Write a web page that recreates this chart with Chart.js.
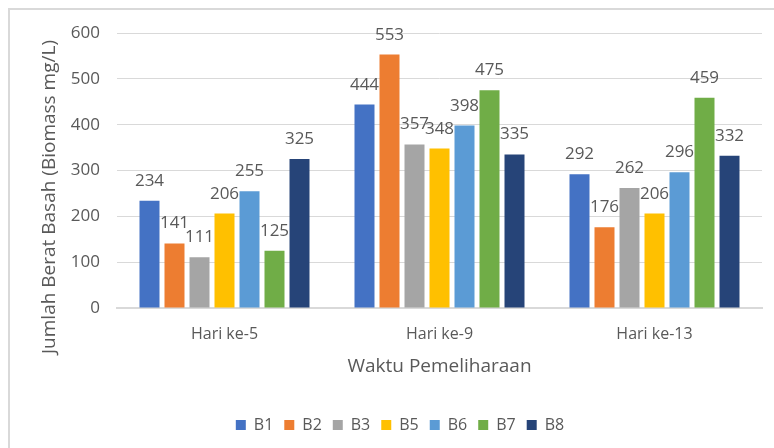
<!DOCTYPE html>
<html>
<head>
<meta charset="utf-8">
<script src="https://cdn.jsdelivr.net/npm/chart.js@4.4.1/dist/chart.umd.min.js"></script>
<style>
html,body{margin:0;padding:0;background:#fff;overflow:hidden;}
#wrap{position:relative;width:774px;height:448px;}
</style>
</head>
<body>
<div id="wrap"><canvas id="c" width="774" height="448"></canvas></div>
<script>
const categories = ["Hari ke-5", "Hari ke-9", "Hari ke-13"];
const seriesNames = ["B1", "B2", "B3", "B5", "B6", "B7", "B8"];
const B1 = [234, 444, 292];
const B2 = [141, 553, 176];
const B3 = [111, 357, 262];
const B5 = [206, 348, 206];
const B6 = [255, 398, 296];
const B7 = [125, 475, 459];
const B8 = [325, 335, 332];
const yTicks = [0, 100, 200, 300, 400, 500, 600];
const seriesColors = ["#4472C4", "#ED7D31", "#A5A5A5", "#FFC000", "#5B9BD5", "#70AD47", "#264478"];
const seriesValues = [B1, B2, B3, B5, B6, B7, B8];
const yTitle = 'Jumlah Berat Basah (Biomass mg/L)';
const xTitle = 'Waktu Pemeliharaan';

const TEXT = "#595959";
const FONT = "'Open Sans', 'Noto Sans', sans-serif";

const frame = {
  id: 'frame',
  beforeDraw(chart) {
    const ctx = chart.ctx;
    ctx.save();
    ctx.fillStyle = '#fff';
    ctx.fillRect(0, 0, chart.width, chart.height);
    ctx.strokeStyle = '#d9d9d9';
    ctx.lineWidth = 2;
    ctx.beginPath();
    ctx.moveTo(9, chart.height);
    ctx.lineTo(9, 9);
    ctx.lineTo(chart.width, 9);
    ctx.stroke();
    ctx.restore();
  },
  afterLayout(chart) {
    // centre the legend like the reference (slightly right of canvas centre)
    chart.legend.left += 19;
    chart.legend.right += 19;
  },
  afterDraw(chart) {
    const ctx = chart.ctx;
    ctx.save();
    ctx.translate(50, 197);
    ctx.rotate(-Math.PI / 2);
    ctx.font = "19px " + FONT;
    ctx.fillStyle = TEXT;
    ctx.textAlign = 'center';
    ctx.textBaseline = 'middle';
    ctx.fillText(yTitle, 0, 0);
    ctx.restore();
  }
};

const dataLabels = {
  id: 'dataLabels',
  afterDatasetsDraw(chart) {
    const ctx = chart.ctx;
    ctx.save();
    ctx.font = "17px " + FONT;
    ctx.fillStyle = TEXT;
    ctx.textAlign = 'center';
    ctx.textBaseline = 'alphabetic';
    chart.data.datasets.forEach((ds, i) => {
      const meta = chart.getDatasetMeta(i);
      meta.data.forEach((bar, j) => {
        ctx.fillText(String(ds.data[j]), bar.x, bar.y - 15);
      });
    });
    ctx.restore();
  }
};

new Chart(document.getElementById('c'), {
  type: 'bar',
  data: {
    labels: categories,
    datasets: seriesNames.map((n, i) => ({
      label: n,
      data: seriesValues[i],
      backgroundColor: seriesColors[i],
      borderWidth: 0,
      categoryPercentage: 0.814,
      barPercentage: 0.8
    }))
  },
  options: {
    responsive: false,
    animation: false,
    layout: { padding: { top: 33, right: 12, left: 0, bottom: 5 } },
    plugins: {
      legend: {
        position: 'bottom',
        labels: {
          boxWidth: 10, boxHeight: 10, padding: 11,
          color: TEXT,
          font: { size: 16, family: FONT }
        }
      },
      tooltip: { enabled: false }
    },
    scales: {
      y: {
        min: 0, max: 600,
        afterBuildTicks(scale) { scale.ticks = yTicks.map(v => ({ value: v })); },
        afterFit(scale) { scale.width = 117; },
        ticks: { color: TEXT, font: { size: 17, family: FONT }, padding: 17 },
        grid: { color: '#d9d9d9', lineWidth: 1, drawTicks: false },
        border: { display: false },
        title: { display: false }
      },
      x: {
        afterFit(scale) { scale.height = 98; },
        ticks: { color: TEXT, font: { size: 16, family: FONT }, padding: 17 },
        grid: { display: false, drawTicks: false },
        border: { display: true, color: '#d9d9d9', width: 2 },
        title: {
          display: true,
          text: xTitle,
          color: TEXT,
          font: { size: 19, family: FONT },
          padding: { top: 8, bottom: 28 }
        }
      }
    }
  },
  plugins: [frame, dataLabels]
});
</script>
</body>
</html>
